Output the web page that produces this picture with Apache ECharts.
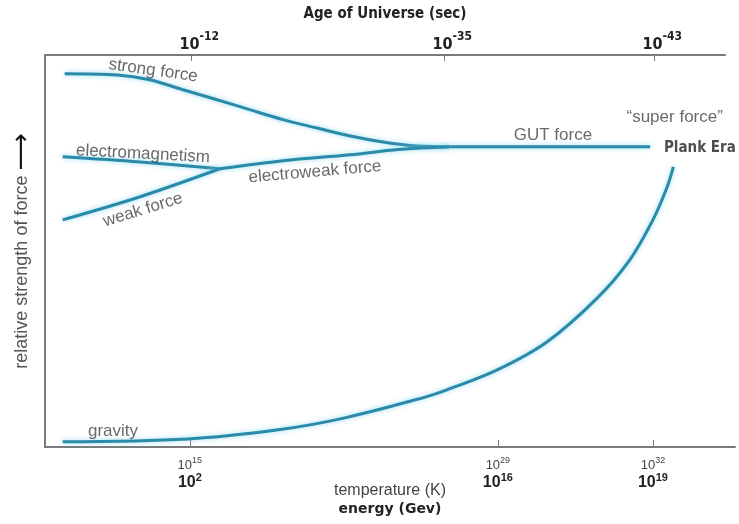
<!DOCTYPE html>
<html><head><meta charset="utf-8">
<script src="https://cdn.jsdelivr.net/npm/echarts@6/dist/echarts.min.js"></script>
<style>html,body{margin:0;padding:0;background:#fff}#c{width:739px;height:524px}</style>
</head><body><div id="c"></div>
<script>
// schematic scale: x = epoch position (0..100), y = relative strength
const strongForce = [[2.9,93.5],[10.6,93.2],[15.4,92.0],[20.3,89.5],[25.3,87.0],[30.1,84.5],[35.0,82.0],[40.0,79.9],[44.9,77.9],[49.7,76.4],[54.7,75.4],[59.6,75.2]];
const electromagnetism = [[2.6,72.7],[14.0,71.4],[25.7,69.7]];
const weakForce = [[2.6,56.9],[14.0,62.7],[25.7,69.7]];
const electroweak = [[25.7,69.7],[35.0,71.7],[44.9,73.2],[52.0,74.5],[59.6,75.2]];
const gutForce = [[59.6,75.2],[89.0,75.2]];
const gravity = [[2.6,1.3],[21.0,2.0],[34.3,4.3],[44.1,7.3],[55.9,12.5],[59.1,14.3],[66.5,19.3],[73.8,26.3],[81.2,37.3],[86.0,46.9],[89.4,56.9],[91.5,65.2],[92.4,70.2]];

const bottomTicks = [21.3, 66.6, 89.4];
const tempLabels = ['15', '29', '32'];     // temperature (K) exponents
const energyLabels = ['2', '16', '19'];    // energy (GeV) exponents
const topTicks = [21.5, 58.7, 89.6];
const ageLabels = ['-12', '-35', '-43'];   // age of universe (sec) exponents

const annotations = [
  {text: 'strong force', pos: [15.9, 94.3], rot: -8},
  {text: 'electromagnetism', pos: [14.4, 73.4], rot: -3},
  {text: 'weak force', pos: [14.4, 59.4], rot: 17},
  {text: 'electroweak force', pos: [39.7, 68.9], rot: 5},
  {text: 'GUT force', pos: [74.7, 78.2], rot: 0},
  {text: '\u201Csuper force\u201D', pos: [92.6, 82.7], rot: 0},
  {text: 'Plank Era', pos: [96.3, 74.9], rot: 0, bold: true},
  {text: 'gravity', pos: [10.0, 4.0], rot: 0}
];

const LINE = '#2a8aa9';
const AX = '#7a7a7a';
const COND = "'DejaVu Sans Condensed', 'DejaVu Sans', sans-serif";
const chart = echarts.init(document.getElementById('c'), null, {renderer: 'canvas'});

function lineSeries(name, data) {
  return {
    name, type: 'line', data, xAxisIndex: 0, yAxisIndex: 0, smooth: 0.35,
    symbol: 'none', silent: true,
    lineStyle: {color: LINE, width: 3, shadowColor: 'rgba(120,210,235,0.8)', shadowBlur: 5},
    z: 3
  };
}

const option = {
  animation: false,
  grid: [
    {left: 45, right: 4, top: 55, bottom: 77, outerBoundsMode: 'none', containLabel: false},
    {left: 45, right: 14, top: 55, bottom: 77, outerBoundsMode: 'none', containLabel: false}
  ],
  xAxis: [
    {
      type: 'value', gridIndex: 0, position: 'bottom', min: 0, max: 100 * 690 / 680,
      splitLine: {show: false},
      axisLine: {onZero: false, lineStyle: {color: AX, width: 2}},
      axisTick: {show: true, inside: true, length: 7, customValues: bottomTicks, lineStyle: {color: AX, width: 1}},
      axisLabel: {
        customValues: bottomTicks, margin: 7,
        formatter: function (v) {
          const i = bottomTicks.indexOf(v);
          return '{t|10}{ts|' + tempLabels[i] + '}\n{e|10}{es|' + energyLabels[i] + '}';
        },
        rich: {
          t: {fontFamily: 'Liberation Sans', fontSize: 13, color: '#444', lineHeight: 18, verticalAlign: 'bottom'},
          ts: {fontFamily: 'Liberation Sans', fontSize: 9, color: '#444', lineHeight: 18, verticalAlign: 'bottom', padding: [0, 0, 7, 0]},
          e: {fontFamily: 'Liberation Sans', fontWeight: 'bold', fontSize: 16, color: '#222', lineHeight: 19, verticalAlign: 'bottom'},
          es: {fontFamily: 'Liberation Sans', fontWeight: 'bold', fontSize: 11, color: '#222', lineHeight: 19, verticalAlign: 'bottom', padding: [0, 0, 8, 0]}
        }
      },
      name: '{a|temperature (K)}\n{b|energy (Gev)}',
      nameLocation: 'middle', nameGap: 34, nameMoveOverlap: false,
      nameTextStyle: {
        rich: {
          a: {fontFamily: 'Liberation Sans', fontSize: 16, color: '#444', lineHeight: 19},
          b: {fontFamily: 'DejaVu Sans', fontWeight: 'bold', fontSize: 14, color: '#222', lineHeight: 19}
        }
      }
    },
    {
      type: 'value', gridIndex: 1, position: 'top', min: 0, max: 100,
      splitLine: {show: false},
      axisLine: {onZero: false, lineStyle: {color: AX, width: 2}},
      axisTick: {show: true, inside: true, length: 6, customValues: topTicks, lineStyle: {color: AX, width: 1}},
      axisLabel: {
        customValues: topTicks, margin: 2, padding: [0, 0, 0, 16],
        formatter: function (v) {
          const i = topTicks.indexOf(v);
          return '{b|10}{s|' + ageLabels[i] + '}';
        },
        rich: {
          b: {fontFamily: COND, fontWeight: 'bold', fontSize: 16, color: '#222', verticalAlign: 'bottom'},
          s: {fontFamily: COND, fontWeight: 'bold', fontSize: 12, color: '#222', verticalAlign: 'bottom', padding: [0, 0, 10, 0]}
        }
      },
      name: 'Age of Universe (sec)',
      nameLocation: 'middle', nameGap: 33, nameMoveOverlap: false,
      nameTextStyle: {fontFamily: COND, fontWeight: 'bold', fontSize: 15, color: '#222'}
    }
  ],
  yAxis: [
    {
      type: 'value', gridIndex: 0, min: 0, max: 98.2,
      splitLine: {show: false}, axisTick: {show: false}, axisLabel: {show: false},
      axisLine: {show: true, onZero: false, lineStyle: {color: AX, width: 2}},
      name: '{t|relative strength of force }{a|\u27F6}',
      nameLocation: 'middle', nameRotate: 90, nameGap: 13, nameMoveOverlap: false,
      nameTextStyle: {
        rich: {
          t: {fontFamily: 'Liberation Sans', fontSize: 18, color: '#555', lineHeight: 20},
          a: {fontFamily: 'DejaVu Sans', fontSize: 26, color: '#111', lineHeight: 20}
        }
      }
    },
    {type: 'value', gridIndex: 1, min: 0, max: 98.2, show: false}
  ],
  series: [
    lineSeries('strong force', strongForce),
    lineSeries('electromagnetism', electromagnetism),
    lineSeries('weak force', weakForce),
    lineSeries('electroweak force', electroweak),
    lineSeries('GUT force', gutForce),
    lineSeries('gravity', gravity),
    {
      type: 'scatter', xAxisIndex: 0, yAxisIndex: 0, symbolSize: 0, silent: true, z: 5,
      data: annotations.map(a => ({
        value: a.pos,
        label: {
          show: true, position: 'inside', formatter: a.text, rotate: a.rot,
          fontFamily: a.bold ? COND : 'Liberation Sans',
          fontWeight: a.bold ? 'bold' : 'normal',
          fontSize: a.bold ? 15 : 17,
          color: a.bold ? '#222' : '#444',
          backgroundColor: a.bold ? '#fff' : 'transparent'
        }
      }))
    }
  ]
};
chart.setOption(option);
</script></body></html>
